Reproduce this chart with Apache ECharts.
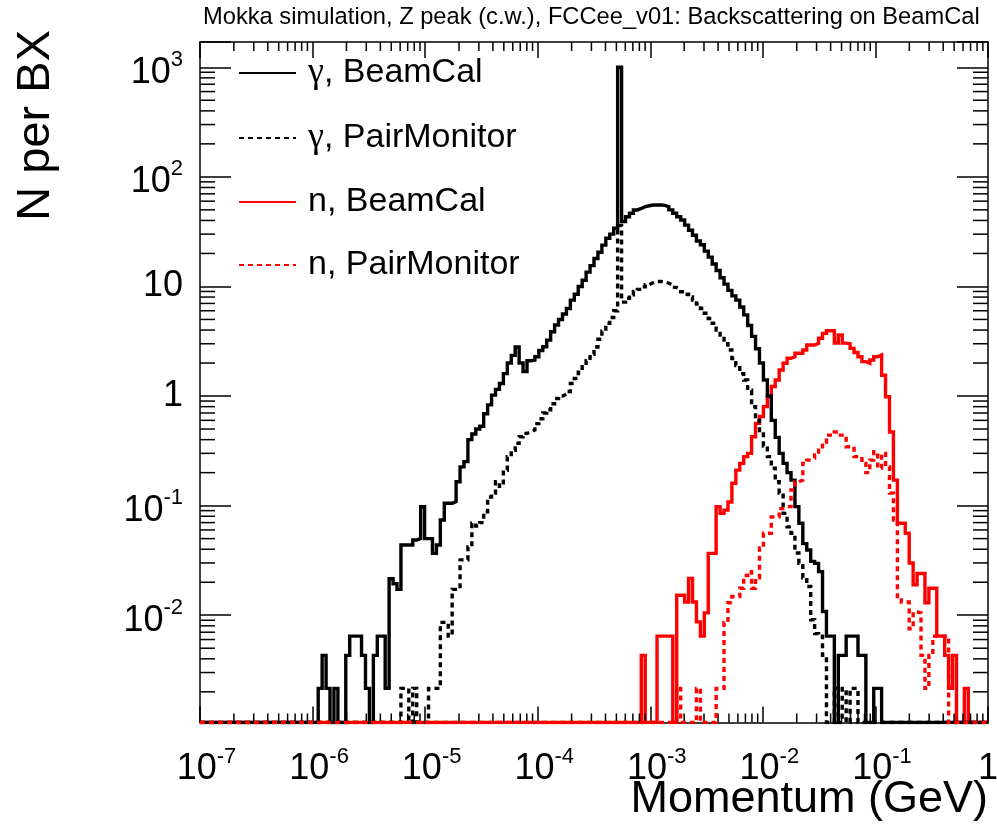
<!DOCTYPE html>
<html>
<head>
<meta charset="utf-8">
<script src="https://cdn.jsdelivr.net/npm/echarts@6/dist/echarts.min.js"></script>
<style>html,body{margin:0;padding:0;background:#fff}#chart{width:997px;height:826px}</style>
</head>
<body>
<div id="chart"></div>
<script>
// ---------------- data ----------------
const X_MIN = 1e-7, X_MAX = 1;          // momentum range (GeV)
const Y_MIN = 0.00105, Y_MAX = 1700;    // N per BX range
const N_BINS = 200;                     // log-spaced histogram bins

const seriesNames = ['γ, BeamCal', 'γ, PairMonitor', 'n, BeamCal', 'n, PairMonitor'];
const titleText = 'Mokka simulation, Z peak (c.w.), FCCee_v01: Backscattering on BeamCal';
const xAxisTitle = 'Momentum (GeV)';
const yAxisTitle = 'N per BX';
const minorMultipliers = [2, 3, 4, 5, 6, 7, 8, 9];

// photons in BeamCal, bins 30..172
const gammaBeamCalStart = 30;
const gammaBeamCal = [
  0.00215, 0.0043, 0.00215, 0, 0.00215, 0, 0, 0.0043, 0.00645, 0.00645,
  0.00645, 0.0043, 0.00215, 0, 0.0043, 0.00645, 0.00645, 0.00215, 0.0215, 0.0194,
  0.0172, 0.0437, 0.0437, 0.0437, 0.0485, 0.050, 0.0977, 0.050, 0.050, 0.0367,
  0.0437, 0.074, 0.105, 0.105, 0.109, 0.165, 0.226, 0.252, 0.40, 0.45,
  0.50, 0.53, 0.69, 0.83, 1.02, 1.15, 1.30, 1.60, 2.0, 2.35,
  2.8, 2.0, 1.67, 2.1, 2.13, 2.28, 2.6, 2.82, 3.24, 3.86,
  4.45, 5.0, 5.6, 6.3, 7.5, 8.5, 10.0, 11.4, 13.5, 15.5,
  18, 20.5, 23.8, 27.5, 30, 34, 1000, 39, 43.3, 46.5,
  49.9, 51.5, 53.5, 54.5, 55.4, 55.4, 55.4, 55, 53.5, 50,
  46.5, 43.3, 40.4, 36.3, 32.6, 29.3, 26, 24, 21, 18.5,
  16, 14, 12, 10.5, 9.2, 8.2, 7.5, 6.5, 5.5, 4.4,
  3.5, 2.7, 2.0, 1.4, 1.0, 0.6, 0.42, 0.30, 0.243, 0.20,
  0.171, 0.098, 0.069, 0.045, 0.0394, 0.031, 0.0297, 0.025, 0.0108, 0.00645,
  0.00645, 0, 0.0043, 0.0043, 0.00645, 0.00645, 0.00645, 0.0043, 0.0043, 0,
  0, 0.00215, 0.00215
];

// photons in PairMonitor, bins 51..166
const gammaPairMonitorStart = 51;
const gammaPairMonitor = [
  0.00215, 0.00215, 0, 0.00215, 0, 0, 0, 0.00215, 0.00215,
  0.00215, 0.0086, 0.0086, 0.00645, 0.0172, 0.0172, 0.032, 0.032, 0.042, 0.069,
  0.065, 0.07, 0.088, 0.12, 0.13, 0.165, 0.15, 0.21, 0.28, 0.32,
  0.37, 0.425, 0.456, 0.47, 0.49, 0.56, 0.62, 0.70, 0.75, 0.85,
  0.95, 1.0, 1.04, 1.1, 1.3, 1.45, 1.65, 1.85, 2.1, 2.4,
  2.8, 3.3, 3.9, 4.6, 5.2, 6.0, 36, 7.2, 7.8, 8.4,
  9.0, 9.4, 9.9, 10.4, 10.8, 11.1, 11.1, 11.0, 10.7, 10.3,
  9.8, 9.4, 8.95, 8.5, 8.0, 7.5, 6.9, 6.3, 5.7, 5.1,
  4.6, 4.0, 3.6, 3.0, 2.63, 2.2, 1.9, 1.6, 1.4, 1.13,
  0.8, 0.6, 0.45, 0.35, 0.28, 0.22, 0.165, 0.13, 0.085, 0.064,
  0.056, 0.037, 0.0297, 0.022, 0.0183, 0.0091, 0.0068, 0.00645, 0.0043, 0,
  0, 0.00215, 0, 0.00215, 0, 0.00215, 0.00215
];

// neutrons in BeamCal, bins 112..194
const neutronBeamCalStart = 112;
const neutronBeamCal = [
  0.0043, 0, 0, 0, 0.00645, 0.00645, 0.00645, 0.00645,
  0, 0.0152, 0.0152, 0.0132, 0.0217, 0.0132, 0.0087, 0.00645, 0.0105, 0.0367,
  0.0367, 0.098, 0.085, 0.091, 0.108, 0.16, 0.211, 0.243, 0.28, 0.30,
  0.425, 0.563, 0.65, 0.80, 0.985, 1.22, 1.40, 1.73, 1.99, 2.21,
  2.28, 2.46, 2.46, 2.63, 2.92, 2.92, 3.02, 3.37, 3.73, 3.94,
  3.94, 3.05, 3.6, 3.04, 3.0, 2.72, 2.5, 2.28, 2.06, 1.99,
  2.13, 2.28, 2.37, 1.55, 0.985, 0.47, 0.171, 0.069, 0.069, 0.056,
  0.030, 0.019, 0.024, 0.024, 0.013, 0.0176, 0.0176, 0.00645, 0.00645, 0.0043,
  0.00215, 0.0043, 0, 0, 0.00215
];

// neutrons in PairMonitor, bins 121..189
const neutronPairMonitorStart = 121;
const neutronPairMonitor = [
  0.00215, 0, 0, 0, 0, 0.00215, 0, 0, 0,
  0, 0.00215, 0.00215, 0.0086, 0.013, 0.0148, 0.0148, 0.0176, 0.023, 0.025,
  0.0176, 0.022, 0.041, 0.056, 0.056, 0.079, 0.079, 0.094, 0.098, 0.098,
  0.139, 0.165, 0.171, 0.243, 0.26, 0.27, 0.29, 0.32, 0.38, 0.44,
  0.44, 0.47, 0.44, 0.44, 0.345, 0.345, 0.28, 0.28, 0.243, 0.20,
  0.26, 0.31, 0.22, 0.30, 0.226, 0.13, 0.074, 0.0148, 0.0132, 0.0132,
  0.0075, 0.0107, 0.0105, 0.0043, 0.00215, 0.0043, 0.00645, 0.00645, 0.00645, 0.00645
];

// ---------------- helpers ----------------
const FONT = '"Liberation Sans", Arial, Helvetica, sans-serif';
const SERIF = '"Liberation Serif", "DejaVu Serif", serif';
const lx0 = Math.log10(X_MIN), lx1 = Math.log10(X_MAX);
const binEdges = [];
for (let i = 0; i <= N_BINS; i++) binEdges.push(i === N_BINS ? X_MAX : Math.pow(10, lx0 + (lx1 - lx0) * i / N_BINS));

// histogram outline points; empty bins sit on the frame bottom like ROOT draws them
function histPoints(start, vals) {
  const full = new Array(N_BINS).fill(0);
  vals.forEach((v, k) => { full[start + k] = v; });
  const pts = [];
  for (let i = 0; i < N_BINS; i++) pts.push([binEdges[i], Math.max(full[i], Y_MIN)]);
  pts.push([binEdges[N_BINS], Math.max(full[N_BINS - 1], Y_MIN)]);
  return pts;
}

function decadeMinors(e0, e1, lo, hi) {
  const out = [];
  for (let e = e0; e <= e1; e++) minorMultipliers.forEach(m => {
    const v = m * Math.pow(10, e);
    if (v > lo && v < hi) out.push(v);
  });
  return out;
}
const xMinorTicks = decadeMinors(-7, -1, X_MIN, X_MAX);
const yMinorTicks = decadeMinors(-3, 3, Y_MIN, Y_MAX);

function expOf(v) {
  const l = Math.log10(v), e = Math.round(l);
  return Math.abs(l - e) < 1e-6 ? e : null;
}
function xLabel(v) {
  const e = expOf(v);
  if (e === null) return '';
  if (e === 0) return '{xb|1}';
  if (e === 1) return '{xb|10}';
  return '{xbp|10}{sup|' + e + '}';
}
function yLabel(v) {
  const e = expOf(v);
  if (e === null) return '';
  if (e === 0) return '{c|1}';
  if (e === 1) return '{c|10}';
  return '{yb|10}{sup|' + e + '}';
}
const richLabel = {
  xb: { fontFamily: FONT, fontSize: 36, lineHeight: 47, color: '#000', verticalAlign: 'bottom' },
  xbp: { fontFamily: FONT, fontSize: 36, lineHeight: 47, color: '#000', verticalAlign: 'bottom', padding: [0, 0, 0, 13] },
  yb: { fontFamily: FONT, fontSize: 36, lineHeight: 47, color: '#000', verticalAlign: 'bottom' },
  c: { fontFamily: FONT, fontSize: 36, lineHeight: 36, color: '#000', verticalAlign: 'middle' },
  sup: { fontFamily: FONT, fontSize: 22, lineHeight: 22, color: '#000', verticalAlign: 'top', padding: [5, 0, 0, 0] }
};

const MINOR_X = 9, MINOR_Y = 15, MAJOR_X = 16, MAJOR_Y = 31;
function minorTickSeries(values, dir) {
  return {
    type: 'custom', silent: true, clip: false, z: 4, animation: false,
    xAxisIndex: 0, yAxisIndex: 0,
    data: values.map(v => dir === 'x' ? [v, Y_MIN] : [X_MIN, v]),
    renderItem: (params, api) => {
      const style = { stroke: '#000', lineWidth: 1.5 };
      if (dir === 'x') {
        const v = api.value(0);
        const a = api.coord([v, Y_MIN]), b = api.coord([v, Y_MAX]);
        return { type: 'group', children: [
          { type: 'line', shape: { x1: a[0], y1: a[1], x2: a[0], y2: a[1] - MINOR_X }, style },
          { type: 'line', shape: { x1: b[0], y1: b[1], x2: b[0], y2: b[1] + MINOR_X }, style }
        ] };
      }
      const v = api.value(1);
      const a = api.coord([X_MIN, v]), b = api.coord([X_MAX, v]);
      return { type: 'group', children: [
        { type: 'line', shape: { x1: a[0], y1: a[1], x2: a[0] + MINOR_Y, y2: a[1] }, style },
        { type: 'line', shape: { x1: b[0], y1: b[1], x2: b[0] - MINOR_Y, y2: b[1] }, style }
      ] };
    }
  };
}

function histSeries(name, start, vals, color, dashed, z) {
  return {
    name, type: 'line', step: 'end', symbol: 'none', animation: false, z,
    xAxisIndex: 0, yAxisIndex: 0,
    data: histPoints(start, vals),
    itemStyle: { color },
    lineStyle: { color, width: 3.4, type: dashed ? [5, 4] : 'solid', cap: 'butt', join: 'miter' }
  };
}

const axisLineStyle = { show: true, lineStyle: { color: '#000', width: 1.5 } };
const logX = {
  type: 'log', logBase: 10, min: X_MIN, max: X_MAX, splitLine: { show: false },
  axisLine: axisLineStyle
};
const logY = {
  type: 'log', logBase: 10, min: Y_MIN, max: Y_MAX, splitLine: { show: false },
  axisLine: axisLineStyle
};

const option = {
  animation: false,
  backgroundColor: '#fff',
  title: {
    text: titleText, left: 203, top: 5, padding: 0,
    textStyle: { fontFamily: FONT, fontSize: 23.7, fontWeight: 'normal', color: '#000' }
  },
  grid: { left: 200, right: 9, top: 42, bottom: 103.5, containLabel: false, outerBoundsMode: 'none' },
  legend: {
    data: seriesNames, orient: 'vertical', left: 238, top: 55, padding: 0,
    itemWidth: 57, itemHeight: 32, itemGap: 29, selectedMode: false,
    itemStyle: { opacity: 0 },
    formatter: name => name.replace('γ', '{g|γ}'),
    textStyle: {
      fontFamily: FONT, fontSize: 34, color: '#000', lineHeight: 32, padding: [0, 0, 0, 7],
      rich: { g: { fontFamily: SERIF, fontSize: 36, lineHeight: 32, color: '#000' } }
    }
  },
  graphic: [
    {
      type: 'text', x: 988, y: 777, silent: true,
      style: { text: xAxisTitle, fontFamily: FONT, fontSize: 45, fill: '#000', textAlign: 'right', textVerticalAlign: 'top' }
    }
  ],
  xAxis: [
    Object.assign({}, logX, {
      position: 'bottom',
      axisTick: { show: true, inside: true, length: MAJOR_X, lineStyle: { color: '#000', width: 1.5 } },
      axisLabel: { show: true, margin: 18, formatter: xLabel, rich: richLabel, showMinLabel: true, showMaxLabel: true, color: '#000' }
    }),
    Object.assign({}, logX, {
      position: 'top',
      axisTick: { show: true, inside: true, length: MAJOR_X, lineStyle: { color: '#000', width: 1.5 } },
      axisLabel: { show: false }
    })
  ],
  yAxis: [
    Object.assign({}, logY, {
      position: 'left',
      name: yAxisTitle, nameLocation: 'end', nameGap: 12, nameRotate: 90,
      nameTextStyle: { fontFamily: FONT, fontSize: 47, color: '#000', align: 'right', verticalAlign: 'bottom', padding: [0, 0, 140, 0] },
      axisTick: { show: true, inside: true, length: MAJOR_Y, lineStyle: { color: '#000', width: 1.5 } },
      axisLabel: { show: true, margin: 17, formatter: yLabel, rich: richLabel, color: '#000' }
    }),
    Object.assign({}, logY, {
      position: 'right',
      axisTick: { show: true, inside: true, length: MAJOR_Y, lineStyle: { color: '#000', width: 1.5 } },
      axisLabel: { show: false }
    })
  ],
  series: [
    histSeries(seriesNames[2], neutronBeamCalStart, neutronBeamCal, '#ff0000', false, 2),
    histSeries(seriesNames[0], gammaBeamCalStart, gammaBeamCal, '#000000', false, 3),
    histSeries(seriesNames[1], gammaPairMonitorStart, gammaPairMonitor, '#000000', true, 4),
    histSeries(seriesNames[3], neutronPairMonitorStart, neutronPairMonitor, '#ff0000', true, 5),
    minorTickSeries(xMinorTicks, 'x'),
    minorTickSeries(yMinorTicks, 'y')
  ]
};

const chart = echarts.init(document.getElementById('chart'), null, { renderer: 'canvas' });
chart.setOption(option);
</script>
</body>
</html>
